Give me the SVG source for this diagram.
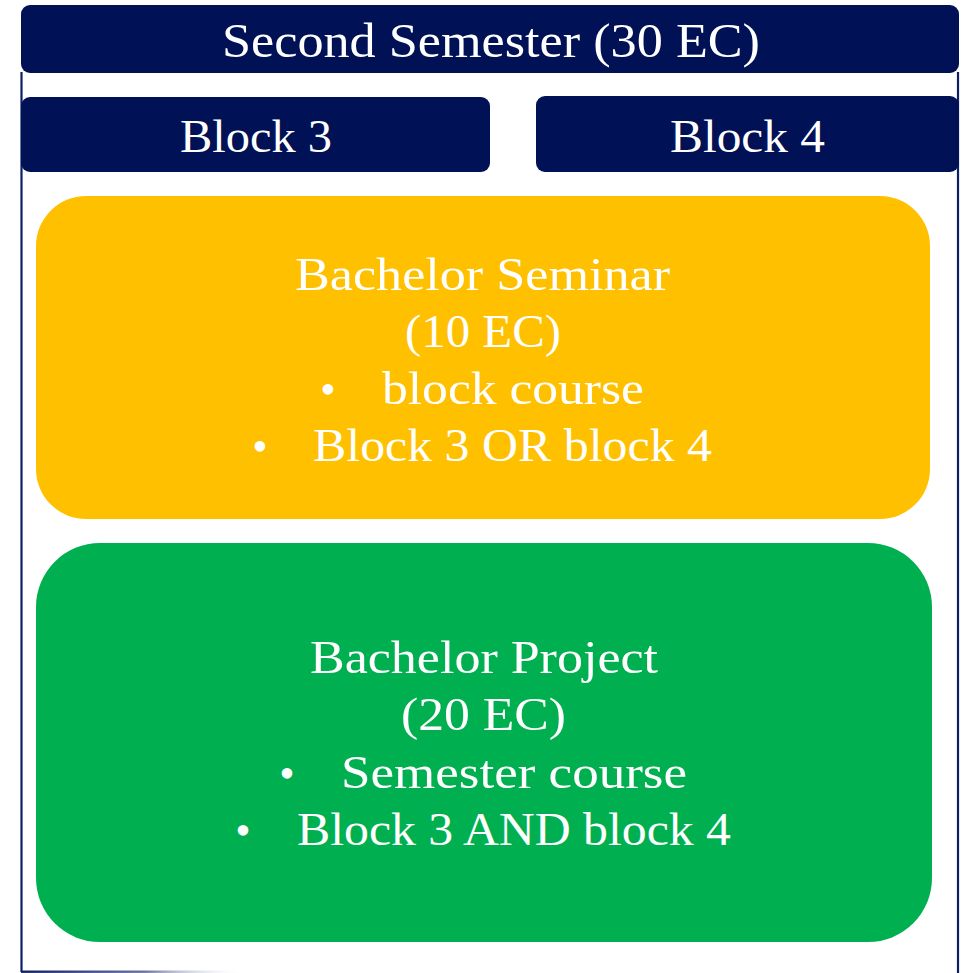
<svg xmlns="http://www.w3.org/2000/svg" width="975" height="973" viewBox="0 0 975 973">
<style>
.navy{fill:#001155}
.t{font-family:"Liberation Serif","DejaVu Serif",serif;fill:#ffffff;text-anchor:start}
.c{text-anchor:middle}
.frame{stroke:#0d1f66;stroke-width:2.2;fill:none}
</style>
<defs>
<linearGradient id="fade" x1="0" y1="0" x2="1" y2="0">
<stop offset="0" stop-color="#0d1f66"/>
<stop offset="0.55" stop-color="#6a73a3"/>
<stop offset="1" stop-color="#ffffff" stop-opacity="0"/>
</linearGradient>
</defs>
<rect width="975" height="973" fill="#ffffff"/>
<g id="frame">
<line class="frame" x1="21.5" y1="72" x2="21.5" y2="972"/>
<line class="frame" x1="958" y1="72" x2="958" y2="973"/>
<rect x="21" y="970.5" width="225" height="2.4" fill="url(#fade)"/>
</g>
<g id="header">
<rect class="navy" x="21" y="5" width="938" height="68" rx="9"/>
<text class="t" x="222" y="57" font-size="48" textLength="538" lengthAdjust="spacingAndGlyphs">Second Semester (30 EC)</text>
</g>
<g id="block3">
<rect class="navy" x="21" y="97" width="469" height="75" rx="9"/>
<text class="t" x="180" y="152" font-size="46" textLength="152" lengthAdjust="spacingAndGlyphs">Block 3</text>
</g>
<g id="block4">
<rect class="navy" x="536" y="96" width="423" height="76" rx="9"/>
<text class="t" x="670" y="152" font-size="46" textLength="155" lengthAdjust="spacingAndGlyphs">Block 4</text>
</g>
<g id="seminar">
<rect x="36" y="196" width="894" height="323" rx="50" fill="#ffc000"/>
<text class="t" x="295" y="290" font-size="46" textLength="375" lengthAdjust="spacingAndGlyphs">Bachelor Seminar</text>
<text class="t" x="405" y="347" font-size="46" textLength="156" lengthAdjust="spacingAndGlyphs">(10 EC)</text>
<text class="t c" x="328" y="404" font-size="44">•</text>
<text class="t" x="382" y="404" font-size="46" textLength="262" lengthAdjust="spacingAndGlyphs">block course</text>
<text class="t c" x="260" y="461" font-size="44">•</text>
<text class="t" x="313" y="461" font-size="46" textLength="399" lengthAdjust="spacingAndGlyphs">Block 3 OR block 4</text>
</g>
<g id="project">
<rect x="36" y="543" width="896" height="399" rx="64" fill="#00b050"/>
<text class="t" x="310" y="673" font-size="46" textLength="348" lengthAdjust="spacingAndGlyphs">Bachelor Project</text>
<text class="t" x="401" y="730" font-size="46" textLength="165" lengthAdjust="spacingAndGlyphs">(20 EC)</text>
<text class="t c" x="287" y="788" font-size="44">•</text>
<text class="t" x="341" y="788" font-size="46" textLength="346" lengthAdjust="spacingAndGlyphs">Semester course</text>
<text class="t c" x="243" y="845" font-size="44">•</text>
<text class="t" x="297" y="845" font-size="46" textLength="434" lengthAdjust="spacingAndGlyphs">Block 3 AND block 4</text>
</g>
</svg>
